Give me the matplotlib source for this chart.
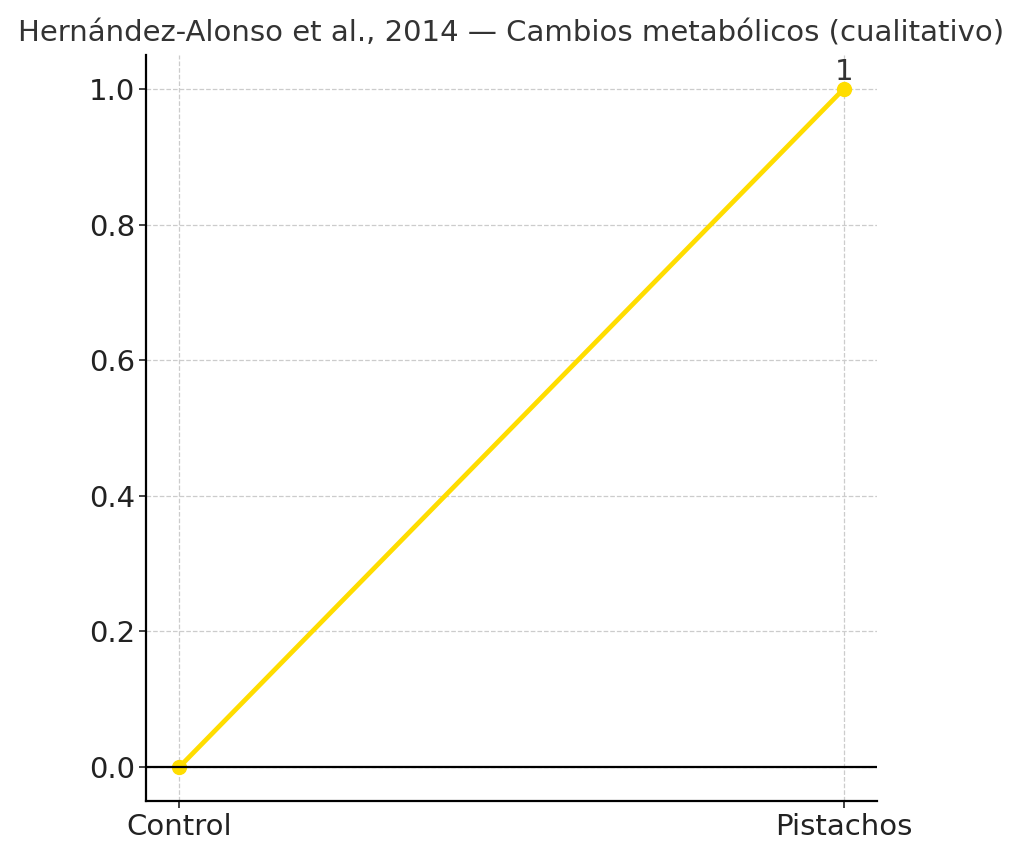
import matplotlib
matplotlib.use("Agg")
import matplotlib.pyplot as plt

# datos
grupos = ["Control", "Pistachos"]
valores = [0, 1]

fig = plt.figure(figsize=(10.24, 8.57), dpi=100)
ax = fig.add_axes([0.1426, 0.0653, 0.7138, 0.8705])

x = list(range(len(grupos)))
ax.plot(x, valores, color="#FFDD00", linewidth=3.4, marker="o", markersize=10, zorder=2)
ax.axhline(0, color="black", linewidth=1.6, zorder=3)

# etiqueta solo en el valor distinto de cero
for xi, v in zip(x, valores):
    if v:
        ax.annotate(str(v), (xi, v), xytext=(0, 2), textcoords="offset points",
                    ha="center", va="bottom", fontsize=21, color="#333333")

ax.set_xticks(x)
ax.set_xticklabels(grupos)
ax.set_yticks([0.0, 0.2, 0.4, 0.6, 0.8, 1.0])
ax.tick_params(labelsize=21, colors="#222222", length=5, width=1.2)
ax.tick_params(axis="y", pad=3)
ax.grid(True, linestyle="--", color="#cccccc", linewidth=0.9)
ax.set_axisbelow(True)

for s in ["top", "right"]:
    ax.spines[s].set_visible(False)
for s in ["left", "bottom"]:
    ax.spines[s].set_linewidth(1.6)

ax.set_title("Hernández-Alonso et al., 2014 — Cambios metabólicos (cualitativo)",
             fontsize=21, color="#333333", pad=10)

fig.savefig("out.png", dpi=100)
